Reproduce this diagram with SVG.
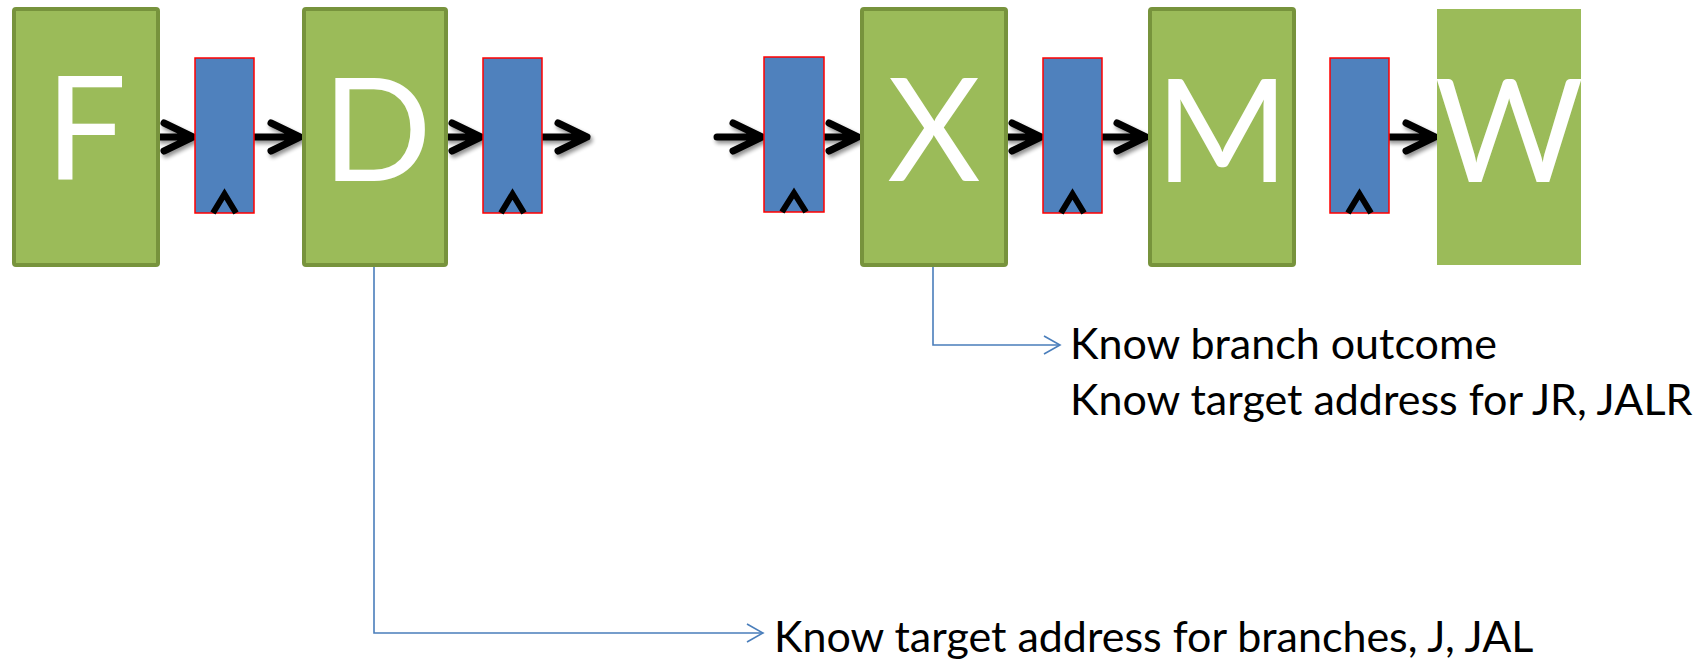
<svg xmlns="http://www.w3.org/2000/svg" width="1704" height="662" viewBox="0 0 1704 662">
<style>
.stage{fill:#9BBB59;stroke:#77933C;stroke-width:4}
.wb{fill:#9BBB59}
.reg{fill:#4F81BD;stroke:#FF0000;stroke-width:1.5}
.big{font-family:Lato,"Liberation Sans",sans-serif;font-size:144px;fill:#FFFFFF;text-anchor:middle}
.lbl{font-family:Lato,"Liberation Sans",sans-serif;font-size:43px;fill:#000000}
.arr{fill:none;stroke:#000;stroke-width:7;stroke-linecap:round;stroke-linejoin:round}
.clk{fill:none;stroke:#000;stroke-width:6}
.con{fill:none;stroke:#4A7EBB;stroke-width:1.6}
</style>
<defs>
<filter id="sh" x="-20%" y="-50%" width="150%" height="200%">
<feGaussianBlur in="SourceAlpha" stdDeviation="2"/>
<feOffset dx="2" dy="3" result="o"/>
<feComponentTransfer><feFuncA type="linear" slope="0.45"/></feComponentTransfer>
<feMerge><feMergeNode/><feMergeNode in="SourceGraphic"/></feMerge>
</filter>
<marker id="oa" viewBox="0 0 20 20" refX="18" refY="10" markerWidth="20" markerHeight="20" markerUnits="userSpaceOnUse" orient="auto">
<path d="M2,1 L18,10 L2,19" fill="none" stroke="#4A7EBB" stroke-width="1.6"/>
</marker>
</defs>
<g id="connectors">
<g filter="url(#sh)">
<path class="arr" d="M160,137 H193 M164,123 L193,137 L164,151"/>
<path class="arr" d="M254,137 H300 M271,123 L300,137 L271,151"/>
<path class="arr" d="M448,137 H481 M452,123 L481,137 L452,151"/>
<path class="arr" d="M542,137 H587 M558,123 L587,137 L558,151"/>
<path class="arr" d="M717,137 H762 M733,123 L762,137 L733,151"/>
<path class="arr" d="M824,137 H858 M829,123 L858,137 L829,151"/>
<path class="arr" d="M1008,137 H1041 M1012,123 L1041,137 L1012,151"/>
<path class="arr" d="M1102,137 H1146 M1117,123 L1146,137 L1117,151"/>
<path class="arr" d="M1389,137 H1435 M1406,123 L1435,137 L1406,151"/>
</g>
<path class="con" d="M374,267 V633 H763" marker-end="url(#oa)"/>
<path class="con" d="M933,267 V345 H1060" marker-end="url(#oa)"/>
</g>
<g id="F"><rect class="stage" x="14" y="9" width="144" height="256" rx="2"/><text class="big" x="86" y="179">F</text></g>
<g id="R1"><rect class="reg" x="195" y="58" width="59" height="155"/><path class="clk" d="M213,213 L224.5,194 L236,213"/></g>
<g id="D"><rect class="stage" x="304" y="9" width="142" height="256" rx="2"/><text class="big" x="377" y="181">D</text></g>
<g id="R2"><rect class="reg" x="483" y="58" width="59" height="155"/><path class="clk" d="M501,213 L512.5,194 L524,213"/></g>
<g id="R3"><rect class="reg" x="764" y="57" width="60" height="155"/><path class="clk" d="M782,212 L794,193 L806,212"/></g>
<g id="X"><rect class="stage" x="862" y="9" width="144" height="256" rx="2"/><text class="big" x="934" y="181">X</text></g>
<g id="R4"><rect class="reg" x="1043" y="58" width="59" height="155"/><path class="clk" d="M1061,213 L1072.5,194 L1084,213"/></g>
<g id="M"><rect class="stage" x="1150" y="9" width="144" height="256" rx="2"/><text class="big" x="1222" y="182">M</text></g>
<g id="R5"><rect class="reg" x="1330" y="58" width="59" height="155"/><path class="clk" d="M1348,213 L1359.5,194 L1371,213"/></g>
<g id="W"><rect class="wb" x="1437" y="9" width="144" height="256"/><text class="big" x="1509" y="182">W</text></g>
<g id="label-x">
<text class="lbl" x="1070" y="359">Know branch outcome</text>
<text class="lbl" x="1070" y="415">Know target address for JR, JALR</text>
</g>
<g id="label-d">
<text class="lbl" x="774" y="652">Know target address for branches, J, JAL</text>
</g>
</svg>
